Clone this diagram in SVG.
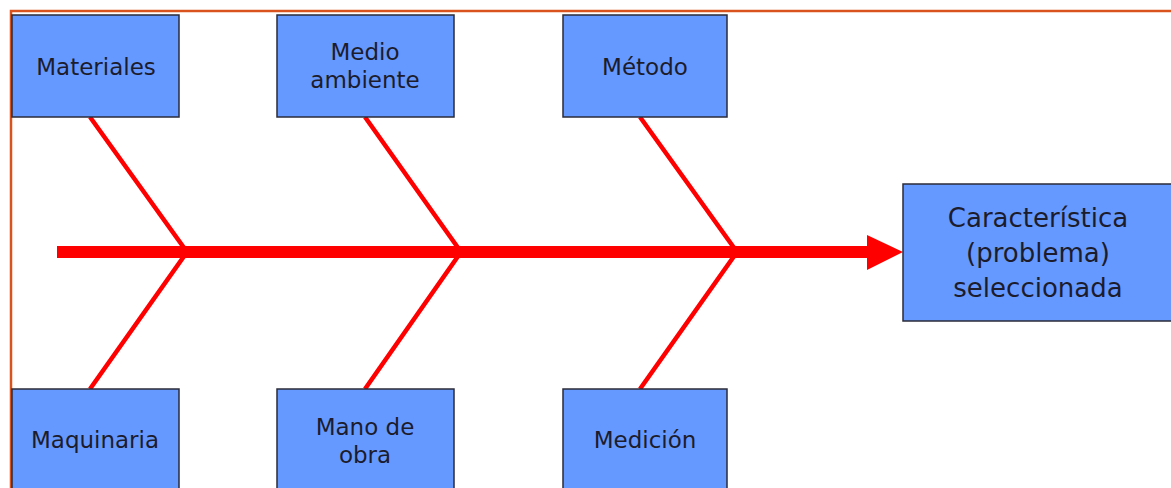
<svg xmlns="http://www.w3.org/2000/svg" width="1171" height="488" viewBox="0 0 1171 488">
  <style>
    .box { fill: #6699ff; stroke: #2b2b3a; stroke-width: 1.5; }
    .lbl { font-family: "DejaVu Sans", Verdana, sans-serif; font-size: 23px; fill: #1c1c2c; text-anchor: middle; }
    .big { font-size: 26px; }
    .bone { stroke: #ff0000; stroke-width: 4.5; fill: none; stroke-linejoin: miter; }
  </style>
  <rect width="1171" height="488" fill="#ffffff"/>
  <!-- frame -->
  <path d="M11 488 V11 H1171" fill="none" stroke="#d9531e" stroke-width="2.5"/>

  <g id="connectors">
    <path class="bone" d="M90 117 L187 252 L90 389"/>
    <path class="bone" d="M365 117 L461 252 L365 389"/>
    <path class="bone" d="M640 117 L737 252 L640 389"/>
    <line x1="57" y1="252" x2="870" y2="252" stroke="#ff0000" stroke-width="12"/>
    <polygon points="867,235 903,252 867,270" fill="#ff0000"/>
  </g>

  <g id="materiales">
    <rect class="box" x="12" y="15" width="167" height="102"/>
    <text class="lbl" x="96" y="75">Materiales</text>
  </g>
  <g id="medio-ambiente">
    <rect class="box" x="277" y="15" width="177" height="102"/>
    <text class="lbl" x="365" y="60">Medio</text>
    <text class="lbl" x="365" y="88">ambiente</text>
  </g>
  <g id="metodo">
    <rect class="box" x="563" y="15" width="164" height="102"/>
    <text class="lbl" x="645" y="75">Método</text>
  </g>
  <g id="maquinaria">
    <rect class="box" x="12" y="389" width="167" height="110"/>
    <text class="lbl" x="95" y="448">Maquinaria</text>
  </g>
  <g id="mano-de-obra">
    <rect class="box" x="277" y="389" width="177" height="110"/>
    <text class="lbl" x="365" y="435">Mano de</text>
    <text class="lbl" x="365" y="463">obra</text>
  </g>
  <g id="medicion">
    <rect class="box" x="563" y="389" width="164" height="110"/>
    <text class="lbl" x="645" y="448">Medición</text>
  </g>
  <g id="caracteristica">
    <rect class="box" x="903" y="184" width="275" height="137"/>
    <text class="lbl big" x="1038" y="227">Característica</text>
    <text class="lbl big" x="1038" y="262">(problema)</text>
    <text class="lbl big" x="1038" y="297">seleccionada</text>
  </g>
</svg>
